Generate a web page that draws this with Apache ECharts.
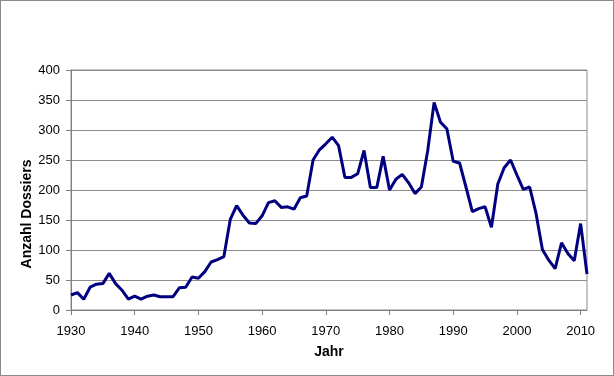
<!DOCTYPE html>
<html>
<head>
<meta charset="utf-8">
<script src="https://cdn.jsdelivr.net/npm/echarts@6/dist/echarts.min.js"></script>
<style>
html,body{margin:0;padding:0;background:#fff;}
#c{width:614px;height:376px;box-sizing:border-box;border:1px solid #8a8a8a;}
</style>
</head>
<body>
<div id="c"></div>
<script>
const years = [];
for (let y = 1930; y <= 2011; y++) years.push(String(y));
const dossiers = [
  25, 29, 18, 38, 43, 44, 61, 44, 33, 18,
  23, 18, 23, 25, 22, 22, 22, 37, 38, 55,
  53, 64, 80, 84, 89, 151, 174, 158, 145, 144,
  157, 179, 182, 171, 172, 168, 187, 190, 250, 267,
  277, 288, 274, 221, 221, 227, 266, 204, 204, 256,
  200, 218, 226, 212, 194, 205, 266, 346, 313, 302,
  248, 245, 205, 164, 169, 172, 138, 210, 237, 250,
  225, 201, 205, 161, 101, 83, 69, 112, 94, 82,
  144, 60
];
const yTicks = [0, 50, 100, 150, 200, 250, 300, 350, 400];

const chart = echarts.init(document.getElementById('c'));
const txt = {fontFamily: 'Liberation Sans, Arial, sans-serif', fontSize: 13, color: '#000'};
const nameTxt = {fontFamily: 'Liberation Sans, Arial, sans-serif', fontSize: 14, fontWeight: 'bold', color: '#000'};
chart.setOption({
  animation: false,
  grid: {left: 70, right: 26, top: 69, bottom: 65, show: true, borderColor: '#8c8c8c', borderWidth: 1},
  xAxis: {
    type: 'category',
    data: years,
    boundaryGap: false,
    name: 'Jahr',
    nameLocation: 'middle',
    nameGap: 35,
    nameMoveOverlap: false,
    nameTextStyle: nameTxt,
    axisLine: {lineStyle: {color: '#808080', width: 1}},
    axisTick: {length: 5, lineStyle: {color: '#808080'}, interval: (i, v) => Number(v) % 10 === 0},
    axisLabel: Object.assign({}, txt, {margin: 15, interval: (i, v) => Number(v) % 10 === 0}),
    splitLine: {show: false}
  },
  yAxis: {
    type: 'value',
    min: yTicks[0],
    max: yTicks[yTicks.length - 1],
    interval: 50,
    name: 'Anzahl Dossiers',
    nameLocation: 'middle',
    nameGap: 37,
    nameMoveOverlap: false,
    nameTextStyle: Object.assign({}, nameTxt, {padding: [0, 48, 0, 0]}),
    axisLine: {show: true, lineStyle: {color: '#808080', width: 1}},
    axisTick: {show: true, length: 5, lineStyle: {color: '#808080'}},
    axisLabel: Object.assign({}, txt, {margin: 11}),
    splitLine: {lineStyle: {color: '#8c8c8c', width: 1}}
  },
  series: [{
    type: 'line',
    data: dossiers,
    showSymbol: false,
    symbol: 'none',
    lineStyle: {color: '#000080', width: 3},
    itemStyle: {color: '#000080'}
  }]
});
</script>
</body>
</html>
